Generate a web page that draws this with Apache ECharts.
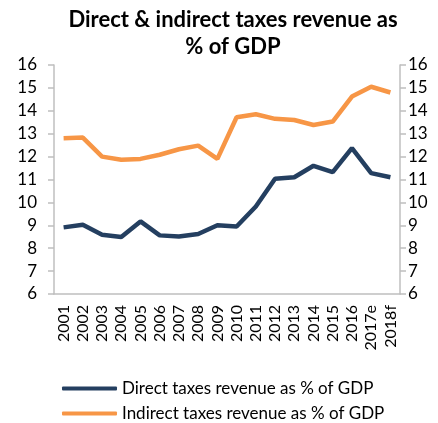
<!DOCTYPE html>
<html><head><meta charset="utf-8">
<script src="https://cdn.jsdelivr.net/npm/echarts@6/dist/echarts.min.js"></script>
<style>html,body{margin:0;padding:0;background:#fff}#c{width:438px;height:423px}</style>
</head><body><div id="c"></div>
<script>
const categories = ['2001','2002','2003','2004','2005','2006','2007','2008','2009','2010','2011','2012','2013','2014','2015','2016','2017e','2018f'];
const directTaxes = [8.91,9.02,8.59,8.49,9.17,8.56,8.51,8.62,9.0,8.95,9.82,11.03,11.1,11.6,11.32,12.37,11.28,11.1];
const indirectTaxes = [12.8,12.83,12.0,11.86,11.9,12.08,12.32,12.48,11.9,13.72,13.85,13.65,13.6,13.38,13.53,14.62,15.05,14.8];
const seriesNames = ['Direct taxes revenue as % of GDP','Indirect taxes revenue as % of GDP'];
const titleText = 'Direct & indirect taxes revenue as\n% of GDP';

const font = 'Lato, "Open Sans", sans-serif';
const axisCommon = {
  type: 'value', min: 6, max: 16, interval: 1,
  axisLine: {show: true, lineStyle: {color: '#BFBFBF', width: 1.5}},
  axisTick: {show: true, length: 6, lineStyle: {color: '#BFBFBF', width: 1.5}},
  splitLine: {show: false},
};
const chart = echarts.init(document.getElementById('c'));
chart.setOption({
  animation: false,
  title: {text: titleText, left: 228, textAlign: 'center', top: 1,
    textStyle: {fontFamily: font, fontWeight: 'bold', fontSize: 22, color: '#000', lineHeight: 27}},
  grid: {left: 54, right: 38, top: 65, bottom: 129},
  legend: {orient: 'vertical', left: 57, top: 375, height: 60, itemWidth: 55, itemHeight: 4, itemGap: 8,
    icon: 'roundRect',
    textStyle: {fontFamily: font, fontSize: 17, color: '#000'},
    data: seriesNames},
  xAxis: {type: 'category', data: categories, boundaryGap: true,
    axisLine: {lineStyle: {color: '#BFBFBF', width: 1.5}},
    axisTick: {show: false},
    axisLabel: {rotate: 90, interval: 0, margin: 11, fontFamily: font, fontSize: 16, color: '#000'}},
  yAxis: [
    Object.assign({}, axisCommon, {position: 'left', axisLabel: {margin: 17, fontFamily: font, fontSize: 17, color: '#000'}}),
    Object.assign({}, axisCommon, {position: 'right', axisLabel: {margin: 8, fontFamily: font, fontSize: 17, color: '#000'}})
  ],
  series: [
    {name: seriesNames[0], type: 'line', data: directTaxes, yAxisIndex: 0, symbol: 'none',
      lineStyle: {color: '#243F60', width: 4.5}, itemStyle: {color: '#243F60'}},
    {name: seriesNames[1], type: 'line', data: indirectTaxes, yAxisIndex: 0, symbol: 'none',
      lineStyle: {color: '#F79646', width: 4.5}, itemStyle: {color: '#F79646'}}
  ]
});
</script></body></html>
